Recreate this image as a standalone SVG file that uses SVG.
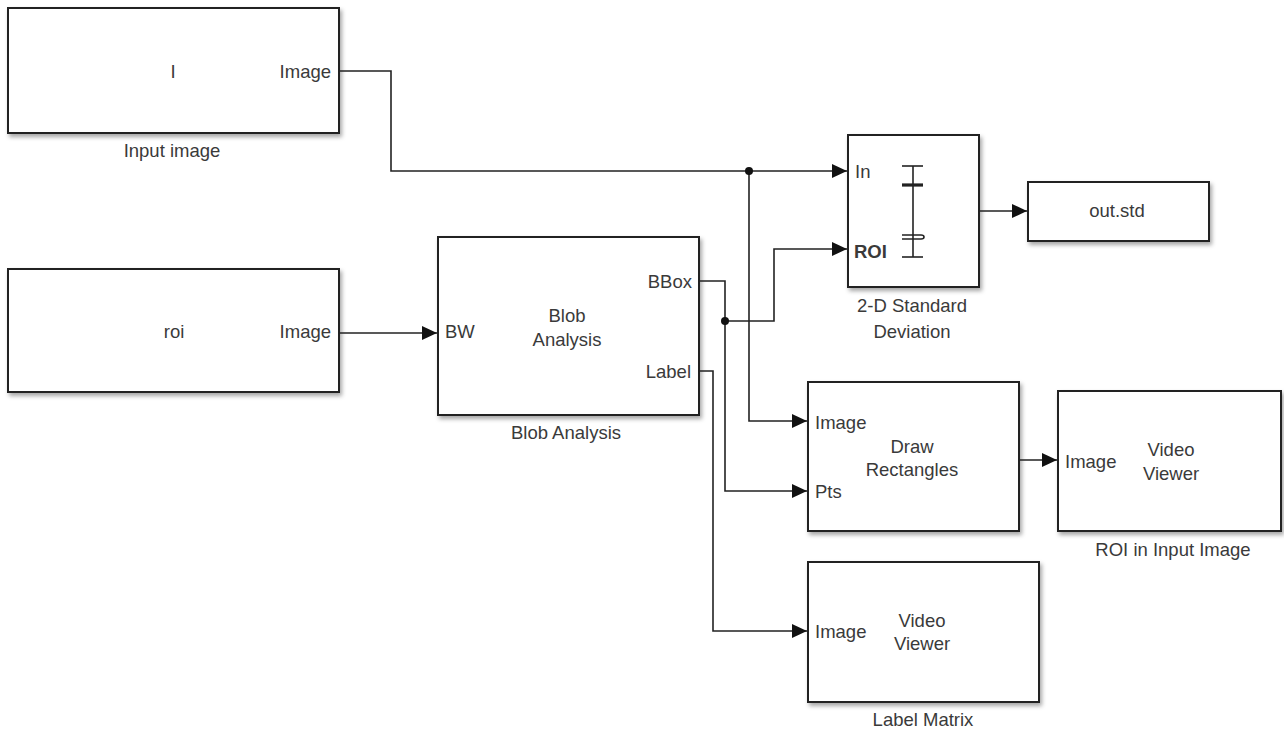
<svg xmlns="http://www.w3.org/2000/svg" width="1284" height="729" viewBox="0 0 1284 729">
<style>
.blk{fill:#fff;stroke:#222;stroke-width:2;filter:url(#sh)}
.t{font-family:"Liberation Sans",Arial,sans-serif;font-size:18.5px;fill:#3a3a3a}
.c{text-anchor:middle}
.e{text-anchor:end}
.w{fill:none;stroke:#222;stroke-width:1.6}
.ic{fill:none;stroke:#222;stroke-width:1.6}
</style>
<defs>
<filter id="sh" x="-10%" y="-10%" width="120%" height="130%">
<feDropShadow dx="2" dy="3" stdDeviation="2.2" flood-color="#000" flood-opacity="0.35"/>
</filter>
<marker id="ar" markerUnits="userSpaceOnUse" markerWidth="16" markerHeight="14" refX="15" refY="7" orient="auto">
<path d="M0,0 L15,7 L0,14 Z" fill="#111"/>
</marker>
</defs>
<rect width="1284" height="729" fill="#fff"/>

<g id="input_image">
<rect class="blk" x="8" y="8" width="331" height="125"/>
<text class="t c" x="173" y="78">I</text>
<text class="t e" x="331" y="78">Image</text>
<text class="t c" x="172" y="157">Input image</text>
</g>

<g id="roi">
<rect class="blk" x="8" y="269" width="331" height="123"/>
<text class="t c" x="174" y="338">roi</text>
<text class="t e" x="331" y="338">Image</text>
</g>

<g id="blob_analysis">
<rect class="blk" x="438" y="237" width="261" height="178"/>
<text class="t" x="445" y="338">BW</text>
<text class="t c" x="567" y="322">Blob</text>
<text class="t c" x="567" y="346">Analysis</text>
<text class="t e" x="692" y="288">BBox</text>
<text class="t e" x="691" y="378">Label</text>
<text class="t c" x="566" y="439">Blob Analysis</text>
</g>

<g id="std_dev">
<rect class="blk" x="848" y="135" width="131" height="152"/>
<text class="t" x="855" y="178">In</text>
<text class="t" x="854" y="258" font-weight="bold">ROI</text>
<g class="ic">
<line x1="913" y1="166" x2="913" y2="257"/>
<line x1="902" y1="166" x2="923" y2="166"/>
<line x1="902" y1="185" x2="923" y2="185" stroke-width="3.2"/>
<path d="M902,235 L921,235 Q924,235 924,237 Q924,239 921,239 L902,239"/>
<line x1="902" y1="257" x2="923" y2="257"/>
</g>
<text class="t c" x="912" y="312">2-D Standard</text>
<text class="t c" x="912" y="338">Deviation</text>
</g>

<g id="out_std">
<rect class="blk" x="1028" y="182" width="181" height="59"/>
<text class="t c" x="1117" y="217" font-size="22.5px">out.std</text>
</g>

<g id="draw_rectangles">
<rect class="blk" x="808" y="382" width="211" height="149"/>
<text class="t" x="815" y="429">Image</text>
<text class="t" x="815" y="498">Pts</text>
<text class="t c" x="912" y="453">Draw</text>
<text class="t c" x="912" y="476">Rectangles</text>
</g>

<g id="roi_in_input_image">
<rect class="blk" x="1058" y="391" width="223" height="140"/>
<text class="t" x="1065" y="468">Image</text>
<text class="t c" x="1171" y="456">Video</text>
<text class="t c" x="1171" y="480">Viewer</text>
<text class="t c" x="1173" y="556">ROI in Input Image</text>
</g>

<g id="label_matrix">
<rect class="blk" x="808" y="562" width="231" height="140"/>
<text class="t" x="815" y="638">Image</text>
<text class="t c" x="922" y="627">Video</text>
<text class="t c" x="922" y="650">Viewer</text>
<text class="t c" x="923" y="726">Label Matrix</text>
</g>

<g id="connectors">
<polyline class="w" points="339,71 391,71 391,171 847,171" marker-end="url(#ar)"/>
<polyline class="w" points="749,171 749,421 807,421" marker-end="url(#ar)"/>
<polyline class="w" points="339,333 437,333" marker-end="url(#ar)"/>
<polyline class="w" points="699,281 725,281 725,491 807,491" marker-end="url(#ar)"/>
<polyline class="w" points="725,321 774,321 774,249 847,249" marker-end="url(#ar)"/>
<polyline class="w" points="699,371 713,371 713,631 807,631" marker-end="url(#ar)"/>
<polyline class="w" points="979,211 1027,211" marker-end="url(#ar)"/>
<polyline class="w" points="1019,460 1057,460" marker-end="url(#ar)"/>
<circle cx="749" cy="171" r="4" fill="#111"/>
<circle cx="725" cy="321" r="4" fill="#111"/>
</g>
</svg>
